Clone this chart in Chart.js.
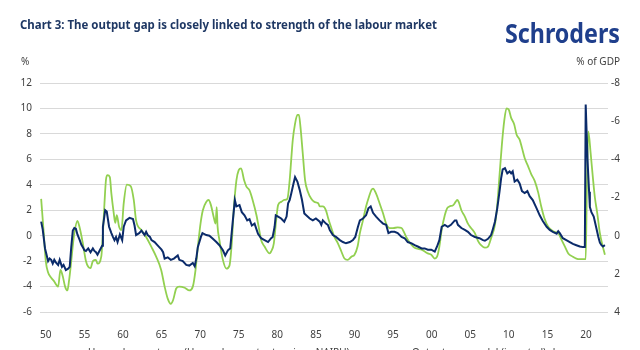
<!DOCTYPE html>
<html>
<head>
<meta charset="utf-8">
<script src="https://cdn.jsdelivr.net/npm/chart.js@4.4.1/dist/chart.umd.min.js"></script>
<style>
	html, body { margin: 0; padding: 0; background: #fff; }
	#wrap { width: 640px; height: 350px; position: relative; overflow: hidden; }
</style>
</head>
<body>
<div id="wrap"><canvas id="chart" width="640" height="350"></canvas></div>
<script>
	// Unemployment gap (unemployment rate minus NAIRU), %, lhs
	var unempYears = [
		1949.4, 1949.6, 1949.9,
		1950.1, 1950.3, 1950.5, 1950.7, 1950.9, 1951.1, 1951.3, 1951.6, 1951.8, 1952.1, 1952.3, 1952.6, 1952.9, 1953.1, 1953.3, 1953.5, 1953.7, 1953.9, 1954.1, 1954.4, 1954.6, 1954.8, 1955.0, 1955.2, 1955.5, 1955.8, 1956.1, 1956.3, 1956.5, 1956.7, 1957.0, 1957.3, 1957.4, 1957.7, 1957.9, 1958.2, 1958.5, 1958.7, 1958.9, 1959.1, 1959.3, 1959.6, 1959.9,
		1960.1, 1960.4, 1960.85, 1961.3, 1961.5, 1961.7, 1962.1, 1962.4, 1962.8, 1963.0, 1963.2, 1963.5, 1963.7, 1964.1, 1964.4, 1964.7, 1965.0, 1965.2, 1965.4, 1965.8, 1966.2, 1966.6, 1967.1, 1967.3, 1967.75, 1968.2, 1968.6, 1969.05, 1969.3, 1969.5, 1969.7,
		1970.1, 1970.3, 1970.8, 1971.2, 1971.65, 1972.1, 1972.5, 1972.95, 1973.25, 1973.6, 1973.9, 1974.2, 1974.5, 1974.7, 1975.1, 1975.4, 1975.75, 1976.1, 1976.4, 1976.7, 1977.05, 1977.5, 1977.9, 1978.35, 1978.8, 1979.2, 1979.4, 1979.65, 1979.8,
		1980.1, 1980.5, 1980.9, 1981.2, 1981.4, 1981.6, 1981.8, 1982.1, 1982.3, 1982.6, 1982.9, 1983.2, 1983.5, 1983.75, 1984.2, 1984.6, 1985.0, 1985.5, 1985.7, 1985.9, 1986.3, 1986.55, 1986.8, 1987.2, 1987.6, 1988.1, 1988.5, 1988.9, 1989.4, 1989.8,
		1990.1, 1990.45, 1990.7, 1991.1, 1991.5, 1991.8, 1992.1, 1992.4, 1992.8, 1993.25, 1993.7, 1994.1, 1994.4, 1994.75, 1995.2, 1995.6, 1996.1, 1996.5, 1996.9, 1997.4, 1997.8, 1998.2, 1998.7, 1999.1, 1999.5, 1999.95,
		2000.4, 2000.7, 2001.0, 2001.3, 2001.7, 2002.1, 2002.5, 2003.0, 2003.2, 2003.4, 2003.85, 2004.3, 2004.7, 2005.1, 2005.6, 2006.2, 2006.65, 2006.9, 2007.3, 2007.7, 2007.9, 2008.2, 2008.5, 2008.8, 2009.0, 2009.2, 2009.5, 2009.8,
		2010.1, 2010.3, 2010.5, 2010.75, 2011.1, 2011.4, 2011.7, 2012.05, 2012.4, 2012.7, 2013.1, 2013.6, 2014.0, 2014.4, 2014.9, 2015.3, 2015.7, 2016.2, 2016.4, 2016.6, 2017.0, 2017.45, 2017.9, 2018.3, 2018.75, 2019.2, 2019.6, 2019.85, 2019.96, 2020.2, 2020.4, 2020.5, 2020.7, 2021.0, 2021.3, 2021.6, 2021.8, 2022.0, 2022.2, 2022.45
	];
	var unempGap = [
		1.1, 0.5, -1.0,
		-1.5, -2.0, -1.8, -1.9, -2.2, -1.9, -2.1, -2.3, -1.9, -2.45, -2.3, -2.7, -2.6, -2.45, -0.9, 0.4, 0.6, 0.55, 0.1, -0.35, -0.7, -0.9, -1.15, -1.2, -1.0, -1.3, -1.0, -1.2, -1.3, -1.5, -1.15, -0.8, 0.7, 2.0, 1.9, 0.7, 0.2, -0.1, -0.35, -0.1, -0.5, 0.1, -0.35,
		0.7, 1.2, 1.4, 1.3, 0.8, 0.05, 0.2, 0.4, 0.05, 0.3, 0.05, -0.1, -0.35, -0.5, -0.7, -0.9, -1.1, -1.3, -1.8, -1.7, -1.9, -1.8, -1.55, -1.9, -2.0, -2.3, -2.35, -2.15, -2.4, -1.8, -0.9,
		-0.1, 0.2, 0.05, 0.0, -0.25, -0.5, -0.75, -1.15, -1.55, -1.15, -1.0, 0.95, 2.8, 2.3, 2.4, 1.85, 1.6, 1.2, 1.3, 0.8, 0.95, 0.15, -0.2, -0.35, -0.5, -0.2, -0.1, 0.7, 1.6,
		1.5, 1.35, 1.1, 1.5, 2.55, 2.8, 3.3, 4.1, 4.6, 4.25, 3.6, 2.8, 1.75, 1.6, 1.35, 1.2, 1.35, 1.1, 0.85, 1.2, 0.95, 0.85, 0.45, 0.05, -0.1, -0.35, -0.5, -0.6, -0.5, -0.35,
		-0.1, 0.7, 1.2, 1.35, 1.6, 2.15, 2.3, 1.8, 1.5, 1.2, 0.95, 0.85, 0.2, 0.3, 0.3, 0.2, -0.1, -0.2, -0.5, -0.6, -0.75, -0.85, -1.0, -1.0, -1.1, -1.1,
		-1.25, -0.85, -0.35, 0.7, 0.85, 0.7, 0.85, 1.2, 1.2, 0.85, 0.6, 0.45, 0.3, 0.05, -0.1, -0.2, -0.35, -0.4, -0.25, 0.05, 0.45, 1.1, 2.15, 3.5, 4.5, 5.2, 5.3, 4.9,
		5.05, 4.9, 5.05, 4.25, 4.4, 4.1, 3.5, 3.35, 3.5, 3.1, 2.8, 2.15, 1.6, 1.15, 0.7, 0.45, 0.3, 0.15, 0.35, 0.2, -0.2, -0.35, -0.5, -0.65, -0.75, -0.85, -0.9, -0.9, 10.3, 5.9, 3.45, 2.25, 1.85, 1.5, 0.7, -0.1, -0.55, -0.75, -0.85, -0.75
	];

	// Output gap model, % of GDP, rhs (axis inverted)
	var gapYears = [
		1949.4, 1949.7,
		1950.0, 1950.3, 1950.7, 1951.1, 1951.4, 1951.6, 1951.9, 1952.2, 1952.5, 1952.8, 1953.0, 1953.3, 1953.5, 1953.7, 1954.1, 1954.4, 1954.8, 1955.2, 1955.5, 1955.8, 1956.1, 1956.5, 1956.7, 1957.2, 1957.4, 1957.6, 1957.8, 1958.0, 1958.3, 1958.5, 1958.8, 1959.0, 1959.2, 1959.5, 1959.8,
		1960.1, 1960.5, 1961.0, 1961.4, 1961.7, 1962.4, 1963.0, 1963.7, 1964.3, 1964.95, 1965.4, 1965.8, 1966.2, 1966.5, 1966.9, 1967.3, 1968.0, 1968.6, 1969.05, 1969.4, 1969.7,
		1970.05, 1970.35, 1970.8, 1971.1, 1971.4, 1971.8, 1972.0, 1972.15, 1972.25, 1972.5, 1972.95, 1973.4, 1973.8, 1974.1, 1974.35, 1974.7, 1975.0, 1975.3, 1975.7, 1976.0, 1976.4, 1976.8, 1977.3, 1977.7, 1977.9, 1978.35, 1979.0, 1979.2, 1979.55, 1979.85,
		1980.1, 1980.5, 1980.9, 1981.3, 1981.6, 1981.8, 1982.0, 1982.3, 1982.6, 1982.8, 1983.0, 1983.3, 1983.6, 1983.96, 1984.4, 1984.8, 1985.3, 1985.5, 1985.9, 1986.3, 1986.6, 1987.0, 1987.4, 1987.85, 1988.3, 1988.7, 1989.1, 1989.6,
		1990.0, 1990.4, 1990.7, 1991.1, 1991.5, 1991.9, 1992.2, 1992.4, 1992.8, 1993.25, 1993.7, 1994.1, 1994.55, 1995.0, 1995.6, 1996.1, 1996.4, 1996.7, 1997.1, 1997.6, 1998.0, 1998.7, 1999.1, 1999.5, 1999.95,
		2000.4, 2000.7, 2001.0, 2001.3, 2001.7, 2002.0, 2002.3, 2002.8, 2003.1, 2003.3, 2003.5, 2003.85, 2004.3, 2004.7, 2005.1, 2005.6, 2006.0, 2006.4, 2006.9, 2007.3, 2007.7, 2008.2, 2008.5, 2008.8, 2009.1, 2009.4, 2009.7,
		2010.0, 2010.3, 2010.7, 2011.0, 2011.4, 2011.7, 2012.05, 2012.5, 2012.9, 2013.35, 2013.8, 2014.2, 2014.6, 2015.1, 2015.5, 2015.9, 2016.4, 2016.85, 2017.3, 2017.7, 2018.3, 2018.75, 2019.2, 2019.6, 2019.96, 2020.1, 2020.3, 2020.6, 2020.9, 2021.15, 2021.45, 2021.8, 2022.15, 2022.45
	];
	var outputGap = [
		-1.93, -0.33,
		1.33, 1.93, 2.2, 2.4, 2.6, 2.67, 1.8, 2.13, 2.67, 2.87, 2.4, 1.33, 0.53, -0.13, -0.77, -0.4, 0.4, 1.33, 1.63, 1.7, 1.33, 1.27, 1.47, 1.07, -0.13, -1.67, -2.93, -3.17, -3.07, -2.2, -1.2, -0.67, -1.07, -0.47, -0.29,
		-1.7, -2.67, -2.6, -1.87, -0.8, -0.29, 0.07, 0.6, 1.1, 1.8, 2.67, 3.3, 3.57, 3.37, 2.77, 2.67, 2.73, 2.87, 2.67, 1.8, 0.6,
		-0.63, -1.33, -1.77, -1.87, -1.6, -0.9, -0.63, -1.5, -0.53, 0.23, 1.27, 1.73, 1.57, 0.4, -1.33, -2.9, -3.43, -3.53, -2.9, -2.57, -2.37, -1.87, -1.07, -0.2, 0.23, 0.57, 0.93, 0.83, 0.4, -0.8,
		-1.6, -1.77, -1.87, -1.93, -2.9, -3.97, -5.0, -5.87, -6.33, -6.33, -5.7, -4.3, -2.9, -2.3, -1.93, -1.77, -1.7, -1.53, -1.53, -1.33, -0.9, -0.4, 0.07, 0.4, 0.83, 1.2, 1.27, 1.1,
		1.0, 0.57, -0.13, -0.8, -1.53, -2.07, -2.4, -2.47, -2.2, -1.7, -1.17, -0.63, -0.4, -0.4, -0.43, -0.4, -0.2, 0.07, 0.33, 0.57, 0.67, 0.73, 0.83, 0.93, 1.0,
		1.2, 1.1, 0.57, -0.3, -1.07, -1.43, -1.53, -1.6, -1.77, -1.87, -1.77, -1.33, -1.0, -0.63, -0.4, -0.13, 0.27, 0.5, 0.63, 0.57, 0.13, -0.57, -1.6, -3.2, -4.77, -6.0, -6.67,
		-6.6, -6.17, -5.83, -5.3, -5.03, -4.6, -4.07, -3.63, -3.23, -2.87, -2.27, -1.53, -0.93, -0.47, -0.3, -0.2, -0.13, 0.23, 0.6, 0.93, 1.1, 1.2, 1.23, 1.23, 1.23, -2.2, -5.47, -4.33, -3.0, -2.0, -1.2, -0.13, 0.53, 1.0
	];

	var tickYears = [1950, 1955, 1960, 1965, 1970, 1975, 1980, 1985, 1990, 1995, 2000, 2005, 2010, 2015, 2020];
	var tickLabels = ['50', '55', '60', '65', '70', '75', '80', '85', '90', '95', '00', '05', '10', '15', '20'];

	var navy = '#0b2b6a';
	var green = '#92d050';
	var textColor = '#404040';
	var fontFamily = '"Noto Sans", "Open Sans", sans-serif';

	function toPoints(xs, ys) {
		return xs.map(function (x, i) { return { x: x, y: ys[i] }; });
	}

	// fits a text into a given width by squeezing it horizontally
	function drawFitted(ctx, text, x, y, width, font, color) {
		ctx.font = font;
		var w = ctx.measureText(text).width;
		ctx.save();
		ctx.translate(x, y);
		ctx.scale(width / w, 1);
		ctx.fillStyle = color;
		ctx.textAlign = 'left';
		ctx.textBaseline = 'alphabetic';
		ctx.fillText(text, 0, 0);
		ctx.restore();
	}

	var decorPlugin = {
		id: 'decor',
		afterDraw: function (chart) {
			var ctx = chart.ctx;
			drawFitted(ctx, 'Chart 3: The output gap is closely linked to strength of the labour market', 20, 28.5, 417, 'bold 12px ' + fontFamily, '#1f3864');
			drawFitted(ctx, 'Schroders', 505, 43, 115, 'bold 26px ' + fontFamily, '#1f3f8c');

			ctx.save();
			ctx.font = '10px ' + fontFamily;
			ctx.fillStyle = textColor;
			ctx.textBaseline = 'middle';
			ctx.textAlign = 'left';
			ctx.fillText('%', 21, 62);
			ctx.textAlign = 'right';
			ctx.fillText('% of GDP', 620, 62);

			// legend, almost all of it below the bottom edge as in the original
			ctx.textAlign = 'left';
			ctx.textBaseline = 'alphabetic';
			ctx.lineWidth = 2;
			ctx.strokeStyle = navy;
			ctx.beginPath(); ctx.moveTo(62, 354); ctx.lineTo(82, 354); ctx.stroke();
			ctx.fillText('Unemployment gap (Unemployment rate minus NAIRU)', 88, 355.5);
			ctx.strokeStyle = green;
			ctx.beginPath(); ctx.moveTo(386, 354); ctx.lineTo(406, 354); ctx.stroke();
			ctx.fillText('Output gap model (inverted) rhs', 412, 355.5);
			ctx.restore();
		}
	};

	new Chart(document.getElementById('chart'), {
		type: 'line',
		data: {
			datasets: [
				{
					label: 'Unemployment gap (Unemployment rate minus NAIRU)',
					data: toPoints(unempYears, unempGap),
					borderColor: navy,
					borderWidth: 2,
					pointRadius: 0,
					tension: 0,
					yAxisID: 'y',
					order: 0,
				},
				{
					label: 'Output gap model (inverted) rhs',
					data: toPoints(gapYears, outputGap),
					borderColor: green,
					borderWidth: 1.8,
					pointRadius: 0,
					cubicInterpolationMode: 'monotone',
					yAxisID: 'y2',
					order: 1,
				},
			],
		},
		options: {
			responsive: false,
			animation: false,
			devicePixelRatio: 1,
			layout: { padding: { top: 83, right: 20, left: 0, bottom: 0 } },
			plugins: {
				legend: { display: false },
				tooltip: { enabled: false },
			},
			scales: {
				x: {
					type: 'linear',
					min: 1949.25,
					max: 2022.85,
					grid: { display: false },
					border: { display: false },
					afterBuildTicks: function (axis) {
						axis.ticks = tickYears.map(function (v) { return { value: v }; });
					},
					afterFit: function (axis) { axis.height = 38; },
					ticks: {
						autoSkip: false,
						maxRotation: 0,
						padding: 9,
						color: textColor,
						font: { size: 10, family: fontFamily },
						callback: function (value) {
							var i = tickYears.indexOf(value);
							return i >= 0 ? tickLabels[i] : '';
						},
					},
				},
				y: {
					position: 'left',
					min: -6,
					max: 12,
					grid: { color: '#d9d9d9', lineWidth: 1, drawTicks: false },
					border: { display: false },
					afterFit: function (axis) { axis.width = 40; },
					ticks: {
						stepSize: 2,
						padding: 8,
						color: textColor,
						font: { size: 10, family: fontFamily },
					},
				},
				y2: {
					position: 'right',
					min: -8,
					max: 4,
					reverse: true,
					grid: { display: false, drawTicks: false },
					border: { display: false },
					afterFit: function (axis) { axis.width = 12; },
					ticks: {
						stepSize: 2,
						crossAlign: 'far',
						color: textColor,
						font: { size: 10, family: fontFamily },
					},
				},
			},
		},
		plugins: [decorPlugin],
	});
</script>
</body>
</html>
